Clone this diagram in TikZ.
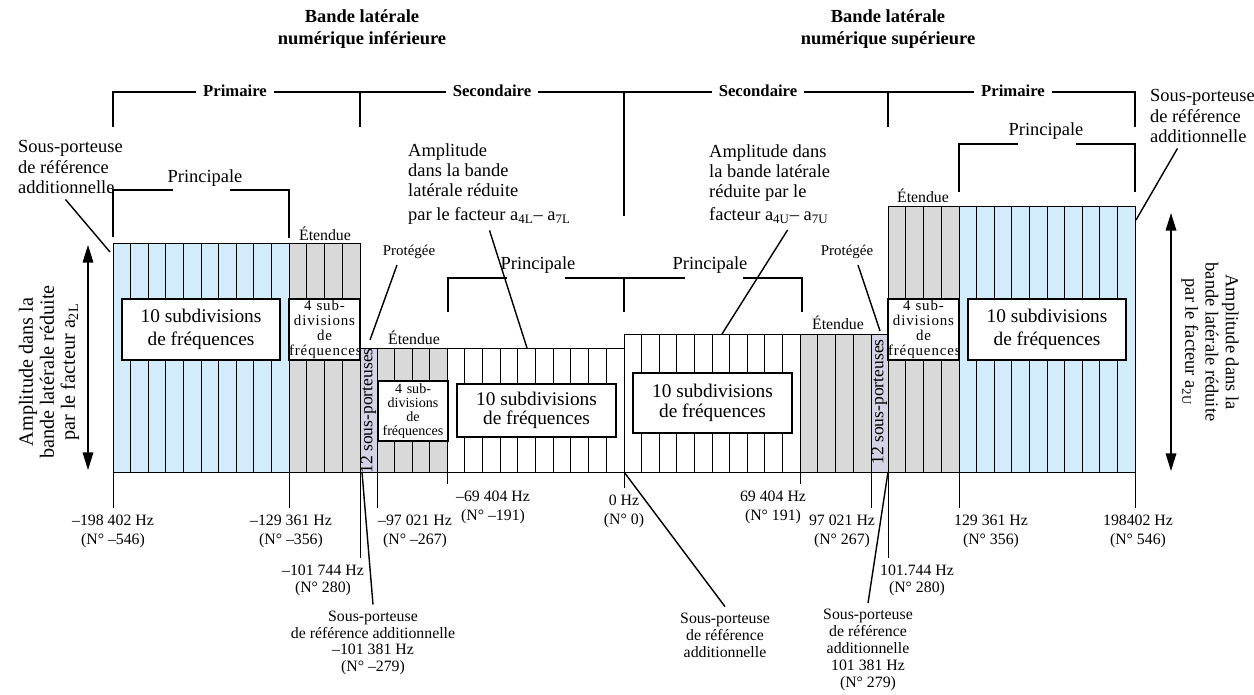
\documentclass[tikz,border=0pt]{standalone}
\usepackage{fontspec}
\setmainfont{Liberation Serif}
\usetikzlibrary{arrows.meta,calc}
\definecolor{bandblue}{RGB}{210,236,252}
\definecolor{bandgray}{RGB}{217,217,217}
\definecolor{bandlav}{RGB}{212,212,230}
\begin{document}
\begin{tikzpicture}[x=0.02cm,y=-0.02cm,
	cell/.style={line width=0.5pt},
	brack/.style={line width=1pt},
	leader/.style={line width=0.8pt},
	amparrow/.style={line width=0.9pt,{Triangle[length=10pt,width=6pt]}-{Triangle[length=10pt,width=6pt]}},
	hdr/.style={font=\fontsize{10.5}{12.5}\selectfont\bfseries,align=center},
	part/.style={font=\fontsize{9.5}{11}\selectfont\bfseries,fill=white,inner xsep=4pt,inner ysep=1pt},
	princ/.style={font=\fontsize{10.5}{12}\selectfont},
	etend/.style={font=\fontsize{9}{10}\selectfont},
	prot/.style={font=\fontsize{8.5}{10}\selectfont},
	note/.style={font=\fontsize{10.5}{11.4}\selectfont,align=left},
	freq/.style={font=\fontsize{9}{10.8}\selectfont,align=center},
	refnote/.style={font=\fontsize{9}{9.6}\selectfont,align=center},
	bigbox/.style={draw,fill=white,line width=1.1pt,inner sep=0pt,align=center,font=\fontsize{11}{13}\selectfont},
	smallbox/.style={draw,fill=white,line width=0.6pt,inner sep=0pt,align=center},
	strip/.style={rotate=90,font=\fontsize{10}{11}\selectfont,inner sep=0pt}]
	\useasboundingbox (0,0) rectangle (1254,695);
	\foreach \xl/\xr/\yt/\nc/\col in {113/289/243/10/bandblue, 289/360/243/4/bandgray, 360/377/348/1/bandlav, 377/447/348/4/bandgray, 447/624/348/10/white, 624/800/334/10/white, 800/871/334/4/bandgray, 871/888/334/1/bandlav, 888/959/206/4/bandgray, 959/1135/206/10/bandblue}{
		\filldraw[cell,fill=\col] (\xl,\yt) rectangle (\xr,472);
		\foreach \k in {1,...,\nc}
			\draw[cell] ({\xl+\k*(\xr-\xl)/\nc},\yt) -- ({\xl+\k*(\xr-\xl)/\nc},472);
	}
	\node[bigbox,minimum width=3.16cm,minimum height=1.22cm] (boxPL) at (201,329.5) {10 subdivisions\\de fréquences};
	\node[smallbox,text width=1.42cm,minimum height=1.22cm,font=\fontsize{8.5}{8.5}\selectfont\addfontfeature{LetterSpace=6}] (boxEL) at (324.5,329.5) {4 sub-\\divisions\\de\\fréquences};
	\node[smallbox,text width=1.40cm,minimum height=1.20cm,font=\fontsize{8}{8}\selectfont] (boxSEL) at (413,411) {4 sub-\\divisions\\de\\fréquences};
	\node[bigbox,minimum width=3.18cm,minimum height=1.06cm,font=\fontsize{11}{11}\selectfont] (boxSML) at (536.5,410.5) {10 subdivisions\\de fréquences};
	\node[bigbox,minimum width=3.18cm,minimum height=1.20cm,font=\fontsize{11}{11.5}\selectfont] (boxSMU) at (712.5,403) {10 subdivisions\\de fréquences};
	\node[smallbox,text width=1.42cm,minimum height=1.22cm,font=\fontsize{8.5}{8.5}\selectfont\addfontfeature{LetterSpace=6}] (boxEU) at (923.5,329.5) {4 sub-\\divisions\\de\\fréquences};
	\node[bigbox,minimum width=3.16cm,minimum height=1.22cm] (boxPU) at (1047,329.5) {10 subdivisions\\de fréquences};
	\node[strip] (stripL) at (368.5,411) {12 sous-porteuses};
	\node[strip] (stripU) at (879.5,402) {12 sous-porteuses};
	\node[hdr] (hdrL) at (362,29) {Bande latérale\\numérique inférieure};
	\node[hdr] (hdrU) at (888,29) {Bande latérale\\numérique supérieure};
	\draw[brack] (113,127) -- (113,92) -- (1135,92) -- (1135,127);
	\draw[brack] (360,92) -- (360,127);
	\draw[brack] (624,92) -- (624,216);
	\draw[brack] (888,92) -- (888,127);
	\node[part] (primL) at (235,91) {Primaire};
	\node[part] (secL) at (492,91) {Secondaire};
	\node[part] (secU) at (758,91) {Secondaire};
	\node[part] (primU) at (1013,91) {Primaire};
	\draw[brack] (113,237) -- (113,190) -- (173,190);
	\draw[brack] (230,190) -- (289,190) -- (289,238);
	\node[princ] (princPL) at (205,178) {Principale};
	\draw[brack] (959,192) -- (959,144) -- (1018,144);
	\draw[brack] (1076,144) -- (1135,144) -- (1135,192);
	\node[princ] (princPU) at (1046,131) {Principale};
	\draw[brack] (448,312) -- (448,278) -- (507,278);
	\draw[brack] (565,278) -- (685,278);
	\draw[brack] (743,278) -- (802,278) -- (802,312);
	\draw[brack] (624,278) -- (624,312);
	\node[princ] (princSL) at (538,265) {Principale};
	\node[princ] (princSU) at (710,265) {Principale};
	\node[etend] (etPL) at (325,234) {Étendue};
	\node[etend] (etSL) at (414,338) {Étendue};
	\node[etend] (etSU) at (838,323) {Étendue};
	\node[etend] (etPU) at (923,196) {Étendue};
	\node[prot] (protL) at (409,252) {Protégée};
	\node[prot] (protU) at (847,252) {Protégée};
	\coordinate (protLend) at (370,340);
	\coordinate (protUend) at (880,331);
	\draw[leader] ($(protL.south)+(-12,0)$) -- (protLend);
	\draw[leader] ($(protU.south)+(11,0)$) -- (protUend);
	\node[note,anchor=west] (ampL) at (402,184) {Amplitude\\dans la bande\\latérale réduite\\[2pt]par le facteur a\textsubscript{4L}– a\textsubscript{7L}};
	\node[note,anchor=west] (ampU) at (703,184) {Amplitude dans\\la bande latérale\\réduite par le\\[2pt]facteur a\textsubscript{4U}– a\textsubscript{7U}};
	\coordinate (ampLend) at (527,348);
	\coordinate (ampUend) at (722,334);
	\draw[leader] (ampL.south) -- (ampLend);
	\draw[leader] ($(ampU.south)+(18,0)$) -- (ampUend);
	\node[note,anchor=west] (srcL) at (12,167) {Sous-porteuse\\de référence\\additionnelle};
	\node[note,anchor=west] (srcU) at (1144,116) {Sous-porteuse\\de référence\\additionnelle};
	\coordinate (srcLend) at (110,252);
	\coordinate (srcUend) at (1136,220);
	\draw[leader] ($(srcL.south)+(-5,0)$) -- (srcLend);
	\draw[leader] ($(srcU.south)+(-25,0)$) -- (srcUend);
	\coordinate (ampLtop) at (88,245);
	\coordinate (ampLbot) at (88,470);
	\coordinate (ampUtop) at (1171,213);
	\coordinate (ampUbot) at (1171,471);
	\draw[amparrow] (ampLtop) -- (ampLbot);
	\draw[amparrow] (ampUtop) -- (ampUbot);
	\node[rotate=90,align=center,font=\fontsize{11.5}{12}\selectfont] (sideL) at (49,372) {Amplitude dans la\\bande latérale réduite\\par le facteur a\textsubscript{2L}};
	\node[rotate=-90,align=center,font=\fontsize{10.5}{11.5}\selectfont] (sideU) at (1210,342) {Amplitude dans la\\bande latérale réduite\\par le facteur a\textsubscript{2U}};
	\coordinate (t1) at (113,472);
	\coordinate (t2) at (289,472);
	\coordinate (t3) at (360,472);
	\coordinate (t3b) at (362,472);
	\coordinate (t4) at (377,472);
	\coordinate (t5) at (447,472);
	\coordinate (t6) at (624,472);
	\coordinate (t7) at (800,472);
	\coordinate (t8) at (871,472);
	\coordinate (t9) at (888,472);
	\coordinate (t10) at (959,472);
	\coordinate (t11) at (1135,472);
	\node[freq] (f1) at (113,531) {–198 402 Hz\\(N° –546)};
	\node[freq] (f2) at (291,531) {–129 361 Hz\\(N° –356)};
	\node[freq,font=\fontsize{9}{9.6}\selectfont] (f3) at (323,580) {–101 744 Hz\\(N° 280)};
	\node[freq] (f4) at (415,531) {–97 021 Hz\\(N° –267)};
	\node[freq] (f5) at (493,507) {–69 404 Hz\\(N° –191)};
	\node[freq] (f6) at (624,511) {0 Hz\\(N° 0)};
	\node[freq] (f7) at (773,507) {69 404 Hz\\(N° 191)};
	\node[freq] (f8) at (842,531) {97 021 Hz\\(N° 267)};
	\node[freq,font=\fontsize{9}{9.6}\selectfont] (f9) at (917,580) {101.744 Hz\\(N° 280)};
	\node[freq] (f10) at (991,531) {129 361 Hz\\(N° 356)};
	\node[freq] (f11) at (1138,531) {198402 Hz\\(N° 546)};
	\foreach \t/\f in {t1/f1,t2/f2,t3/f3,t4/f4,t5/f5,t6/f6,t7/f7,t8/f8,t9/f9,t10/f10,t11/f11}
		\draw[cell] (\t) -- (\t |- \f.north);
	\node[refnote] (refA) at (373,643) {Sous-porteuse\\de référence additionnelle\\–101 381 Hz\\(N° –279)};
	\node[refnote] (refB) at (725,635) {Sous-porteuse\\de référence\\additionnelle};
	\node[refnote] (refC) at (868,650) {Sous-porteuse\\de référence\\additionnelle\\101 381 Hz\\(N° 279)};
	\draw[leader] (t3b) -- (refA.north);
	\draw[leader] (t6) -- (refB.north);
	\draw[leader] (t9) -- (refC.north);
\end{tikzpicture}
\end{document}
